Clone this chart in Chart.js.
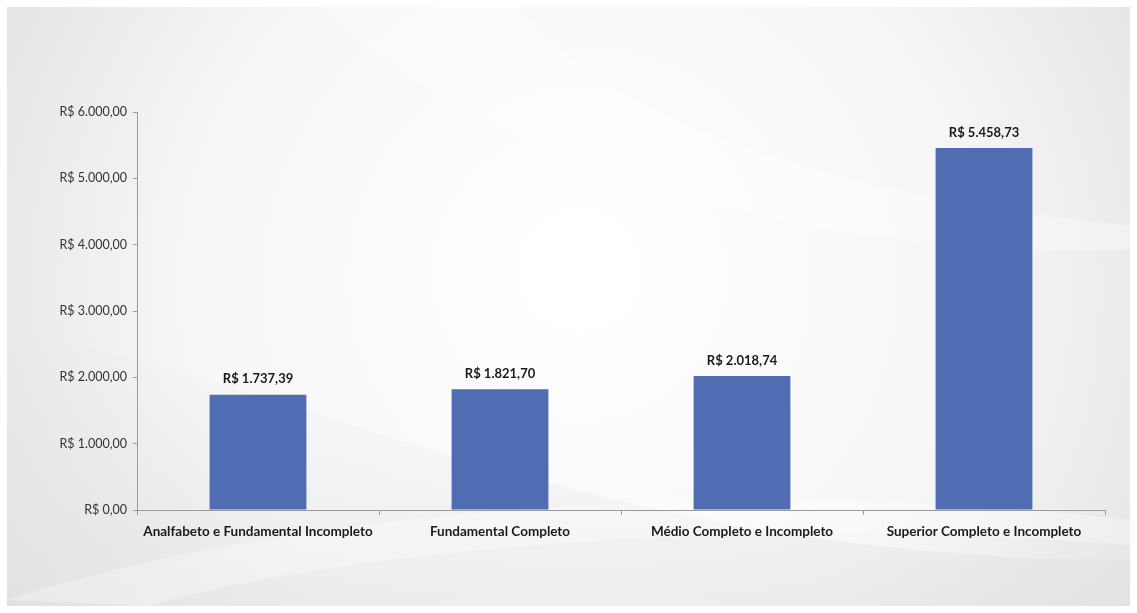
<!DOCTYPE html>
<html>
<head>
<meta charset="utf-8">
<script src="https://cdn.jsdelivr.net/npm/chart.js@4"></script>
<style>
  html, body { margin: 0; padding: 0; background: #fff; }
  #wrap { width: 1137px; height: 613px; }
</style>
</head>
<body>
<div id="wrap"><canvas id="renda-chart"></canvas></div>
<script>
const categorias = [
    'Analfabeto e Fundamental Incompleto',
    'Fundamental Completo',
    'Médio Completo e Incompleto',
    'Superior Completo e Incompleto'
];
const rendaMedia = [1737.39, 1821.70, 2018.74, 5458.73];
const yMin = 0;
const yMax = 6000;
const yStep = 1000;

const fonte = "Lato, 'Open Sans', sans-serif";

// R$ 1.234,56
const formatReal = (v) => {
    const [inteiro, dec] = Math.abs(v).toFixed(2).split('.');
    return 'R$ ' + inteiro.replace(/\B(?=(\d{3})+(?!\d))/g, '.') + ',' + dec;
};

// slide-like grey background with soft white swooshes
const fundo = {
    id: 'fundo',
    beforeDraw(chart) {
        const { ctx, width, height } = chart;
        ctx.save();
        ctx.fillStyle = '#fff';
        ctx.fillRect(0, 0, width, height);
        const x0 = 7, y0 = 7, w = width - 14, h = height - 14;
        const g = ctx.createRadialGradient(580, 270, 40, 580, 300, 720);
        g.addColorStop(0, '#ffffff');
        g.addColorStop(0.5, '#f7f7f7');
        g.addColorStop(1, '#e0e0e0');
        ctx.fillStyle = g;
        ctx.fillRect(x0, y0, w, h);

        // darker wash along the lower left
        const g2 = ctx.createLinearGradient(0, 300, 0, height);
        g2.addColorStop(0, 'rgba(225,225,225,0)');
        g2.addColorStop(1, 'rgba(220,220,220,0.4)');
        ctx.fillStyle = g2;
        ctx.beginPath();
        ctx.moveTo(x0, 330);
        ctx.bezierCurveTo(300, 380, 600, 560, x0 + w, 560);
        ctx.lineTo(x0 + w, y0 + h);
        ctx.lineTo(x0, y0 + h);
        ctx.closePath();
        ctx.fill();

        // light band sweeping across the top
        ctx.fillStyle = 'rgba(255,255,255,0.3)';
        ctx.beginPath();
        ctx.moveTo(320, y0);
        ctx.bezierCurveTo(480, 160, 800, 260, x0 + w, 250);
        ctx.lineTo(x0 + w, 225);
        ctx.bezierCurveTo(850, 200, 600, 120, 520, y0);
        ctx.closePath();
        ctx.fill();

        // bright lower sweep
        ctx.fillStyle = 'rgba(255,255,255,0.3)';
        ctx.beginPath();
        ctx.moveTo(x0, 600);
        ctx.bezierCurveTo(250, 520, 700, 470, x0 + w, 520);
        ctx.lineTo(x0 + w, 545);
        ctx.bezierCurveTo(700, 510, 300, 560, 150, y0 + h);
        ctx.closePath();
        ctx.fill();
        ctx.restore();
    }
};

// value labels above each bar
const rotulos = {
    id: 'rotulos',
    afterDatasetsDraw(chart) {
        const { ctx } = chart;
        const meta = chart.getDatasetMeta(0);
        ctx.save();
        ctx.font = 'bold 13px ' + fonte;
        ctx.fillStyle = '#1a1a1a';
        ctx.textAlign = 'center';
        ctx.textBaseline = 'bottom';
        meta.data.forEach((bar, i) => {
            ctx.fillText(formatReal(rendaMedia[i]), bar.x, bar.y - 9);
        });
        ctx.restore();
    }
};

new Chart(document.getElementById('renda-chart'), {
    type: 'bar',
    data: {
        labels: categorias,
        datasets: [
            {
                label: 'Renda média',
                data: rendaMedia,
                backgroundColor: '#506cb2',
                barPercentage: 0.4,
                categoryPercentage: 1
            }
        ]
    },
    options: {
        responsive: true,
        maintainAspectRatio: false,
        animation: false,
        layout: {
            padding: { top: 112, right: 32, left: 0, bottom: 0 }
        },
        plugins: {
            legend: { display: false },
            tooltip: { enabled: false }
        },
        scales: {
            x: {
                grid: {
                    display: true,
                    drawOnChartArea: false,
                    drawTicks: true,
                    tickLength: 5,
                    color: '#9a9a9a',
                    offset: true
                },
                border: { color: '#9a9a9a' },
                ticks: {
                    color: '#1a1a1a',
                    padding: 9,
                    maxRotation: 0,
                    autoSkip: false,
                    font: { family: fonte, size: 13.5, weight: 'bold' }
                },
                afterFit(scale) { scale.height = 613 - 510; }
            },
            y: {
                min: yMin,
                max: yMax,
                grid: {
                    display: true,
                    drawOnChartArea: false,
                    tickLength: 4,
                    color: '#9a9a9a'
                },
                border: { color: '#9a9a9a' },
                ticks: {
                    stepSize: yStep,
                    color: '#333',
                    padding: 6,
                    font: { family: fonte, size: 12.5 },
                    callback: (v) => formatReal(v)
                },
                afterFit(scale) { scale.width = 137; }
            }
        }
    },
    plugins: [fundo, rotulos]
});
</script>
</body>
</html>
